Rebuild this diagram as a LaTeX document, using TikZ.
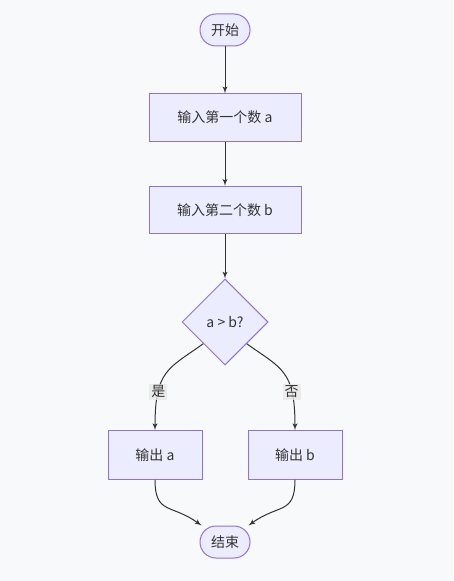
\documentclass[tikz,border=0pt]{standalone}
\usepackage{fontspec}
\setmainfont{Noto Sans CJK SC}
\usepackage{tikz}
\usetikzlibrary{arrows,shapes.geometric}

\definecolor{pagebg}{HTML}{F8F9FA}
\definecolor{boxfill}{HTML}{ECECFF}
\definecolor{boxline}{HTML}{9370DB}
\definecolor{edgeline}{HTML}{333333}
\definecolor{labelbg}{HTML}{E8E8E8}

\begin{document}
\begin{tikzpicture}
[
                  x =  0.75pt,
                  y = -0.75pt,
           ->, >= latex',
      every node/.style = { font=\fontsize{10.5pt}{12pt}\selectfont, text=edgeline },
       edge/.style = { draw=edgeline, line width=0.75pt },
   terminal/.style = { draw=boxline, fill=boxfill, line width=0.75pt, rounded corners=12pt,
                       minimum width=37.5pt, minimum height=24pt, inner sep=0pt },
    process/.style = { draw=boxline, fill=boxfill, line width=0.75pt,
                       minimum width=114pt, minimum height=35.5pt, inner sep=0pt },
     output/.style = { draw=boxline, fill=boxfill, line width=0.75pt,
                       minimum width=70.5pt, minimum height=36.5pt, inner sep=0pt },
   decision/.style = { draw=boxline, fill=boxfill, line width=0.75pt, diamond, aspect=1,
                       minimum width=64.5pt, minimum height=64.5pt, inner sep=0pt },
   edgetext/.style = { fill=labelbg, fill opacity=0.8, text opacity=1, inner sep=1.5pt }
]

    \fill[pagebg] (0,0) rectangle (453,581);
    \useasboundingbox (0,0) rectangle (453,581);

    \node (Start)    at (225, 30)  [terminal] {开始};
    \node (InputA)   at (225,117.5)[process]  {输入第一个数 a};
    \node (InputB)   at (225,210)  [process]  {输入第二个数 b};
    \node (Compare)  at (225,322)  [decision] {a > b?};
    \node (OutputA)  at (155,455)  [output]   {输出 a};
    \node (OutputB)  at (295,455)  [output]   {输出 b};
    \node (End)      at (225,542)  [terminal] {结束};

    \draw[edge] (Start) -- (InputA);
    \draw[edge] (InputA) -- (InputB);
    \draw[edge] (InputB) -- (Compare);

    \draw[edge] (Compare.225) .. controls +(-35,25) and +(0,-60) .. (OutputA.north)
        node[edgetext, pos=0.72] {是};
    \draw[edge] (Compare.315) .. controls +(35,25) and +(0,-60) .. (OutputB.north)
        node[edgetext, pos=0.72] {否};

    \draw[edge] (OutputA.south) .. controls +(0,35) and +(-30,-22) .. (End.145);
    \draw[edge] (OutputB.south) .. controls +(0,35) and +(30,-22) .. (End.35);

\end{tikzpicture}
\end{document}
